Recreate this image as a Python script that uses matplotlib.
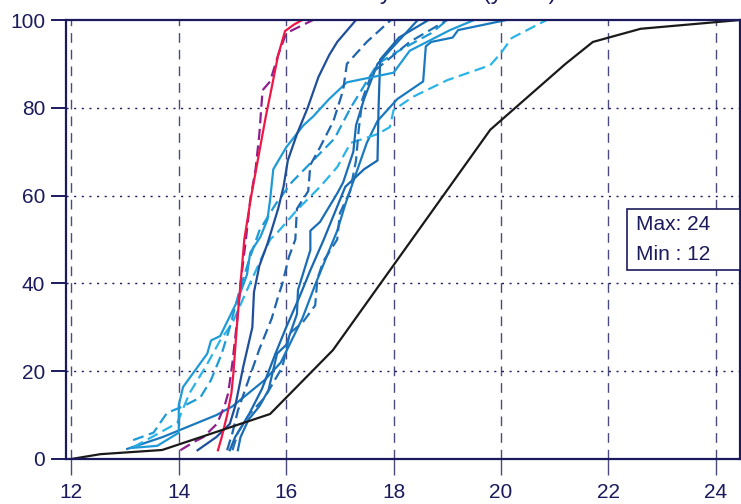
import matplotlib.pyplot as plt
from matplotlib.patches import Rectangle

# cumulative curves (x value, cumulative %)
black_x = [12.0, 12.54, 13.69, 15.7, 16.87, 19.8, 21.2, 21.71, 22.6, 24.45]
black_y = [0, 1.1, 2.05, 10.25, 24.8, 75, 90, 95, 98, 100]

red_x = [14.73, 14.8, 14.9, 14.98, 15.02, 15.08, 15.15, 15.22, 15.35, 15.5, 15.62, 15.72, 15.85, 15.98, 16.15, 16.3]
red_y = [2, 5, 10, 15, 20, 30, 40, 50, 60, 70, 78, 84, 92, 97.5, 99, 100]

purple_x = [14.03, 14.3, 14.46, 14.71, 14.85, 14.92, 15.0, 15.09, 15.15, 15.25, 15.33, 15.43, 15.5, 15.56, 15.7, 15.85, 16.0, 16.5]
purple_y = [2, 4, 5, 8, 12, 15, 22, 32, 40, 50, 59, 66, 74, 84, 86, 92, 97, 100]

b1_x = [14.35, 14.7, 14.95, 15.05, 15.2, 15.37, 15.4, 15.5, 15.65, 15.85, 15.95, 16.03, 16.2, 16.4, 16.6, 16.8, 16.95, 17.3]
b1_y = [2, 5, 8, 12, 21, 30, 38, 44, 49, 57, 62, 68, 74, 80, 87, 92, 95, 100]

b2_x = [14.9, 15.0, 15.1, 15.27, 15.5, 15.73, 15.85, 15.93, 16.05, 16.17, 16.2, 16.41, 16.45, 16.63, 16.88, 17.06, 17.13, 17.5, 17.95]
b2_y = [2, 6, 11, 17, 25, 32, 37, 40, 46, 50, 57, 61, 67, 71, 77, 84, 90, 95, 100]

b3_x = [13.1, 13.6, 14.0, 14.0, 14.08, 14.53, 14.6, 14.77, 15.09, 15.27, 15.33, 15.52, 15.65, 15.7, 15.76, 16.0, 16.32, 16.5, 16.8, 17.13, 18.0, 18.3, 19.05, 19.5]
b3_y = [2.5, 3, 6, 12.3, 16.4, 24, 27, 28, 36, 42, 47, 50.6, 54.5, 59, 66, 71, 76, 78, 82, 85.8, 88, 93, 97.7, 100]

b4_x = [15.0, 15.1, 15.3, 15.6, 15.93, 16.07, 16.3, 16.54, 16.58, 16.69, 16.95, 17.0, 17.19, 17.3, 17.35, 17.42, 17.6, 18.0, 18.3, 19.0]
b4_y = [2, 6, 10, 14, 21, 28.7, 31, 35, 41, 45, 50, 56, 61, 68, 75, 82, 88, 92, 95, 100]

b5_x = [15.1, 15.15, 15.3, 15.5, 15.67, 15.83, 16.0, 16.2, 16.22, 16.45, 16.45, 16.63, 16.95, 17.06, 17.25, 17.3, 17.45, 17.7, 18.0, 18.45]
b5_y = [2, 5, 9, 12, 15.7, 24, 26, 33, 38.5, 47.6, 52, 54, 60.5, 63, 70, 76, 82, 90, 94, 100]

b6_x = [14.95, 15.05, 15.3, 15.55, 15.8, 16.0, 16.25, 16.45, 16.7, 16.9, 17.1, 17.45, 17.7, 17.72, 17.75, 18.1, 18.65]
b6_y = [2, 5, 10, 16, 24, 30, 37, 43, 50, 56, 62, 66, 68, 80, 91, 96, 100]

b7_x = [13.04, 13.7, 14.34, 14.7, 15.0, 15.3, 15.6, 15.9, 16.1, 16.3, 16.55, 16.75, 16.95, 17.1, 17.3, 17.5, 17.7, 18.07, 18.55, 18.6, 18.7, 19.1, 19.2, 20.1]
b7_y = [2.3, 5, 8.2, 10, 12, 15, 18, 22, 27, 32, 40, 46, 52, 58, 65, 72, 77, 82, 86, 94, 95, 96, 97.7, 100]

c1_x = [13.15, 13.5, 13.97, 14.2, 14.5, 14.77, 15.0, 15.27, 15.7, 15.83, 16.2, 16.63, 16.95, 17.2, 17.7, 17.93, 18.0, 18.36, 19.0, 19.8, 20.0, 20.2, 20.85]
c1_y = [2.7, 5, 8.2, 15, 21, 27, 31, 38.5, 50, 51.5, 56.7, 62, 66.5, 72, 74, 75.6, 79.5, 82.5, 86.3, 89.7, 92.5, 95.9, 100]

c2_x = [13.15, 13.53, 13.78, 14.08, 14.4, 14.6, 14.8, 14.95, 15.1, 15.3, 15.5, 15.8, 16.1, 16.5, 16.9, 17.2, 17.5, 17.7, 18.1, 18.7, 19.0]
c2_y = [4.3, 6, 10.5, 12, 14, 18, 24, 30, 37, 45, 52, 58, 63, 68, 73, 80, 86, 90, 93, 97, 100]

navy = '#1b1a5c'

curves = [
    (b7_x, b7_y, '#1a78be', '-'),
    (c1_x, c1_y, '#2bb4e8', '--'),
    (c2_x, c2_y, '#1d9ad8', '--'),
    (b6_x, b6_y, '#1768b0', '-'),
    (b5_x, b5_y, '#1a6db5', '-'),
    (b4_x, b4_y, '#2070b6', '--'),
    (b3_x, b3_y, '#1f9ad6', '-'),
    (b2_x, b2_y, '#1f64ad', '--'),
    (b1_x, b1_y, '#1f4e9a', '-'),
    (purple_x, purple_y, '#8e1f8e', '--'),
    (red_x, red_y, '#ee1846', '-'),
    (black_x, black_y, '#1a1a1a', '-'),
]

plt.rcParams['font.family'] = ['Liberation Sans', 'DejaVu Sans']

fig = plt.figure(figsize=(7.41, 5.04), dpi=100)
ax = fig.add_axes([66 / 741, 1 - 459 / 504, 674 / 741, 439 / 504])

for xs, ys, col, ls in curves:
    if ls == '--':
        ax.plot(xs, ys, color=col, lw=1.6, linestyle=(0, (5, 2.5)))
    else:
        ax.plot(xs, ys, color=col, lw=1.6)

ax.set_xlim(11.9, 24.45)
ax.set_ylim(0, 100)
ax.set_xticks([12, 14, 16, 18, 20, 22, 24])
ax.set_yticks([0, 20, 40, 60, 80, 100])

# vertical dashed grid, horizontal dotted grid
for xv in [12, 14, 16, 18, 20, 22, 24]:
    ax.axvline(xv, color='#4b4a7c', lw=1.0, linestyle=(0, (7, 5)), zorder=0)
for yv in [20, 40, 60, 80]:
    ax.axhline(yv, color=navy, lw=1.0, linestyle=(0, (1.5, 4)), zorder=0)

for s in ax.spines.values():
    s.set_color(navy)
    s.set_linewidth(1.6)

ax.tick_params(axis='x', direction='out', length=11.5, width=1.0, color='#4b4a7c',
               labelsize=15, labelcolor=navy, pad=6)
ax.tick_params(axis='y', direction='out', length=11, width=1.4, color=navy,
               labelsize=15, labelcolor=navy, pad=4)

# Max / Min box
ax.add_patch(Rectangle((0.832, 0.43), 0.168, 0.139, transform=ax.transAxes,
                       facecolor='white', edgecolor=navy, lw=1.2, zorder=5))
ax.text(0.845, 0.535, 'Max: 24', transform=ax.transAxes, fontsize=15,
        color=navy, va='center', zorder=6)
ax.text(0.845, 0.465, 'Min : 12', transform=ax.transAxes, fontsize=15,
        color=navy, va='center', zorder=6)

# title sits almost entirely above the canvas, only descenders show
fig.text(556 / 741, 1 + 1 / 504, 'Cumulative Density at Time (years)', fontsize=17,
         color=navy, ha='right', va='baseline')

fig.savefig('out.png', dpi=100)
